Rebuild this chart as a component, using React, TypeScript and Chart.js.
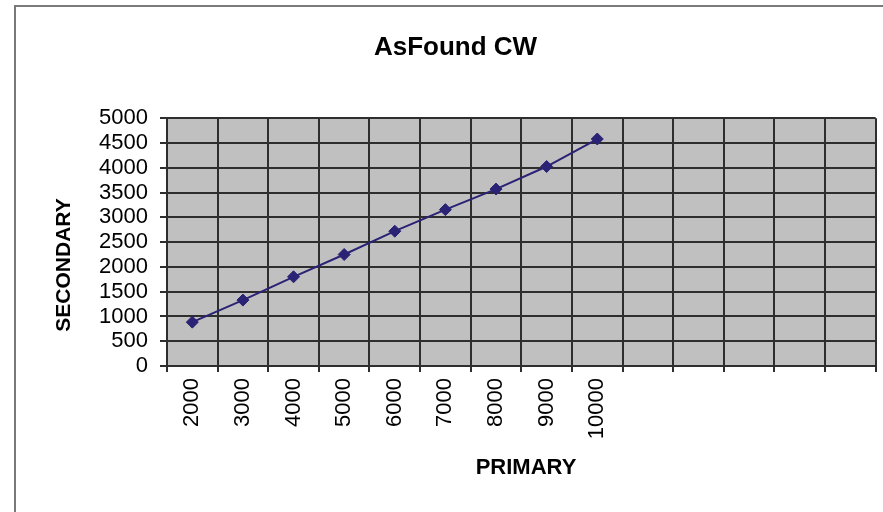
import React, { useEffect, useRef } from "react";
import { Chart, registerables } from "chart.js";

Chart.register(...registerables);

const chartTitle = "AsFound CW";
const xAxisTitle = "PRIMARY";
const yAxisTitle = "SECONDARY";
const categories = ["2000", "3000", "4000", "5000", "6000", "7000", "8000", "9000", "10000", "", "", "", "", ""];
const secondaryValues = [885, 1330, 1800, 2250, 2720, 3155, 3570, 4025, 4580, null, null, null, null, null];
const yMin = 0;
const yMax = 5000;
const yStep = 500;

const FONT = "'Liberation Sans', Arial, sans-serif";

const decorPlugin = {
  id: "decor",
  beforeDraw(chart: any) {
    const { ctx, chartArea, width, height } = chart;
    ctx.save();
    ctx.fillStyle = "#ffffff";
    ctx.fillRect(0, 0, width, height);
    ctx.strokeStyle = "#7a7a7a";
    ctx.lineWidth = 2;
    ctx.beginPath();
    ctx.moveTo(15, height);
    ctx.lineTo(15, 6);
    ctx.lineTo(width, 6);
    ctx.stroke();
    ctx.fillStyle = "#c0c0c0";
    ctx.fillRect(chartArea.left, chartArea.top, chartArea.right - chartArea.left, chartArea.bottom - chartArea.top);
    ctx.restore();
  },
  afterDraw(chart: any) {
    const { ctx } = chart;
    ctx.save();
    ctx.fillStyle = "#000000";
    ctx.textAlign = "center";
    ctx.textBaseline = "middle";
    ctx.font = `bold 22px ${FONT}`;
    ctx.fillText(xAxisTitle, 526, 468);
    ctx.translate(64, 265);
    ctx.rotate(-Math.PI / 2);
    ctx.font = `bold 21px ${FONT}`;
    ctx.fillText(yAxisTitle, 0, 0);
    ctx.restore();
  },
};

export default function App() {
  const ref = useRef<HTMLCanvasElement | null>(null);
  useEffect(() => {
    if (!ref.current) return;
    const chart = new Chart(ref.current, {
      type: "line",
      data: {
        labels: categories,
        datasets: [
          {
            data: secondaryValues as any,
            borderColor: "#2a2275",
            backgroundColor: "#2a2275",
            borderWidth: 2,
            pointStyle: "rectRot",
            pointRadius: 6,
            pointBorderWidth: 1,
            fill: false,
            tension: 0,
          },
        ],
      },
      options: {
        responsive: false,
        animation: false,
        layout: { padding: { left: 34, right: 6, top: 0, bottom: 0 } },
        plugins: {
          legend: { display: false },
          tooltip: { enabled: false },
          title: {
            display: true,
            text: chartTitle,
            color: "#000000",
            font: { family: FONT, size: 26, weight: "bold" },
            padding: { top: 32, bottom: 55 },
          },
        },
        scales: {
          x: {
            type: "category",
            offset: true,
            afterFit(scale: any) {
              scale.height = 146;
            },
            grid: {
              offset: true,
              color: "#2e2e2e",
              lineWidth: 2,
              tickLength: 6,
              drawTicks: true,
            },
            border: { color: "#2e2e2e", width: 2 },
            ticks: {
              autoSkip: false,
              minRotation: 90,
              maxRotation: 90,
              padding: 6,
              color: "#000000",
              font: { family: FONT, size: 22 },
            },
          },
          y: {
            min: yMin,
            max: yMax,
            afterFit(scale: any) {
              scale.width = 133;
            },
            grid: {
              color: "#2e2e2e",
              lineWidth: 2,
              tickLength: 7,
            },
            border: { color: "#2e2e2e", width: 2 },
            ticks: {
              stepSize: yStep,
              autoSkip: false,
              padding: 12,
              color: "#000000",
              font: { family: FONT, size: 22, lineHeight: 1 },
              callback: (v: any) => String(v),
            },
          },
        },
      },
      plugins: [decorPlugin],
    });
    return () => chart.destroy();
  }, []);
  return (
    <div style={{ position: "fixed", left: 0, top: 0, width: 883, height: 512, background: "#fff" }}>
      <canvas ref={ref} width={883} height={512} style={{ display: "block", width: 883, height: 512 }} />
    </div>
  );
}
